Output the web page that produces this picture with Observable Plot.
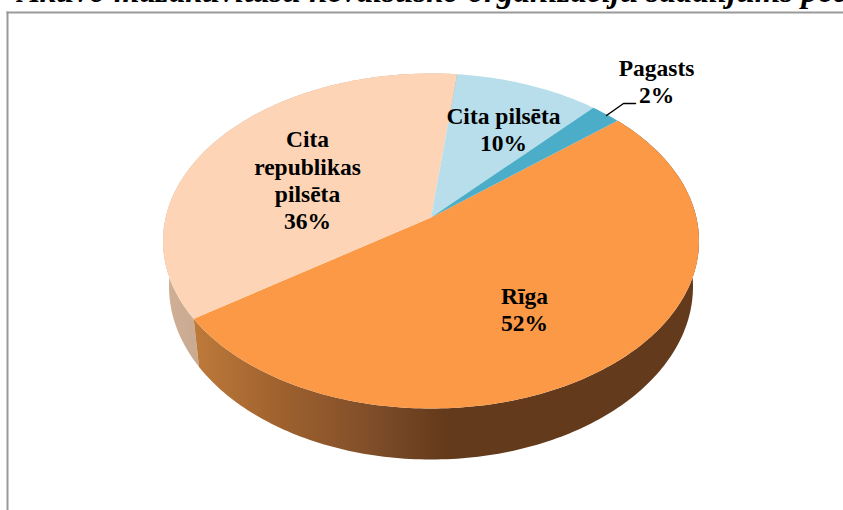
<!DOCTYPE html>
<html><head><meta charset="utf-8">
<style>html,body{margin:0;padding:0;background:#fff}svg{display:block}</style>
<script src="https://cdn.jsdelivr.net/npm/d3@7"></script>
<script src="https://cdn.jsdelivr.net/npm/@observablehq/plot@0.6"></script>
</head><body><div id="chart"></div>
<script>
const categories = ["Rīga", "Cita republikas pilsēta", "Cita pilsēta", "Pagasts"];
const shares = [51.5, 36.4, 10, 2.1];
const topColors = ["#fb9947", "#fdd5b6", "#b7deea", "#4cadc9"];
const labelNames = ["Rīga", "Cita\nrepublikas\npilsēta", "Cita pilsēta", "Pagasts"];
const titleText = "Aktīvo mazaktivitāšu nevalstisko organizāciju sadalījums pēc";
const labels = labelNames.map((n, i) => `${n}\n${Math.round(shares[i])}%`);

// pie view: a tilted disc, first slice starting at 50° clockwise from the top
const firstAngle = 50, tilt = 0.14, step = 1;
const project = (deg) => {
  const a = deg * Math.PI / 180, u = Math.sin(a), v = Math.cos(a), w = 1 + tilt * v;
  return [u * Math.sqrt(1 - tilt * tilt) / w, (v + tilt) / w];
};
const base = ([p, q]) => [p * 262 / 268, q * 173 / 167.5 - 45.5 / 167.5];
const slices = [];
let start = firstAngle;
shares.forEach((s, i) => {
  const end = start + s * 3.6;
  slices.push({i, name: categories[i], start, end, fill: topColors[i]});
  start = end;
});
const arc = (s, e) => d3.range(s, e, step).concat([e]).map(project);
const faces = slices.flatMap((s) =>
  [[0, tilt]].concat(arc(s.start, s.end)).map(([x, y]) => ({x, y, slice: s.name})));
const wall = (s) => {
  const top = arc(s.start, s.end);
  return top.concat(top.slice().reverse().map(base)).map(([x, y]) => ({x, y, slice: s.name}));
};

const defs = () => {
  const NS = "http://www.w3.org/2000/svg";
  const d = document.createElementNS(NS, "defs");
  const grad = (id, stops) => {
    const g = document.createElementNS(NS, "linearGradient");
    g.setAttribute("id", id);
    g.setAttribute("gradientUnits", "userSpaceOnUse");
    g.setAttribute("x1", 165); g.setAttribute("x2", 445);
    g.setAttribute("y1", 0); g.setAttribute("y2", 0);
    stops.forEach(([o, c]) => {
      const st = document.createElementNS(NS, "stop");
      st.setAttribute("offset", o); st.setAttribute("stop-color", c);
      g.appendChild(st);
    });
    d.appendChild(g);
  };
  grad("wallOrange", [[0, "#c9843f"], [0.1, "#bd7a3a"], [0.4, "#a0622e"], [0.7, "#83502a"], [1, "#633a1c"]]);
  grad("wallPeach", [[0, "#cfb097"], [0.15, "#c8a88e"], [1, "#c8a88e"]]);
  return d;
};

const px = (v) => (v - 430.5) / 268, py = (v) => (240.5 - v) / 167.5;
const textStyle = {fontFamily: "Liberation Serif", fontWeight: "bold", fontSize: 23.5};
const labelPlace = [[524, 308], [307, 179], [503, 128], [656, 80]];

const plot = Plot.plot({
  width: 843, height: 510,
  marginLeft: 7, marginTop: 12, marginRight: 0, marginBottom: 0,
  x: {domain: [-1, 1], range: [162.5, 698.5], axis: null},
  y: {domain: [-1, 1], range: [408, 73], axis: null},
  style: {background: "#fff", overflow: "hidden"},
  marks: [
    defs,
    Plot.frame({anchor: "left", stroke: "#9a9a9a", strokeWidth: 2}),
    Plot.frame({anchor: "top", stroke: "#9a9a9a", strokeWidth: 2}),
    Plot.line(wall(slices[1]), {x: "x", y: "y", fill: "url(#wallPeach)", stroke: "none", curve: "linear"}),
    Plot.line(wall(slices[0]), {x: "x", y: "y", fill: "url(#wallOrange)", stroke: "none", curve: "linear"}),
    ...slices.map((s) => Plot.line(faces.filter((d) => d.slice === s.name),
      {x: "x", y: "y", fill: s.fill, stroke: "none", curve: "linear-closed"})),
    Plot.line([[606, 115], [623, 103], [635, 103]].map(([a, b]) => ({x: px(a), y: py(b)})),
      {x: "x", y: "y", stroke: "#000", strokeWidth: 1.5, curve: "linear"}),
    ...labels.map((t, i) => Plot.text([t], {
      x: () => px(labelPlace[i][0]), y: () => py(labelPlace[i][1]),
      text: (d) => d, textAnchor: "middle", lineAnchor: "middle", lineHeight: 1.16,
      fill: "#000", ...textStyle
    })),
    Plot.text([titleText], {
      x: () => px(432), y: () => py(1.5),
      text: (d) => d, textAnchor: "middle", lineAnchor: "bottom",
      fontFamily: "Liberation Serif", fontWeight: "bold", fontStyle: "italic", fontSize: 33, fill: "#000"
    })
  ]
});
document.getElementById("chart").appendChild(plot);
</script></body></html>
